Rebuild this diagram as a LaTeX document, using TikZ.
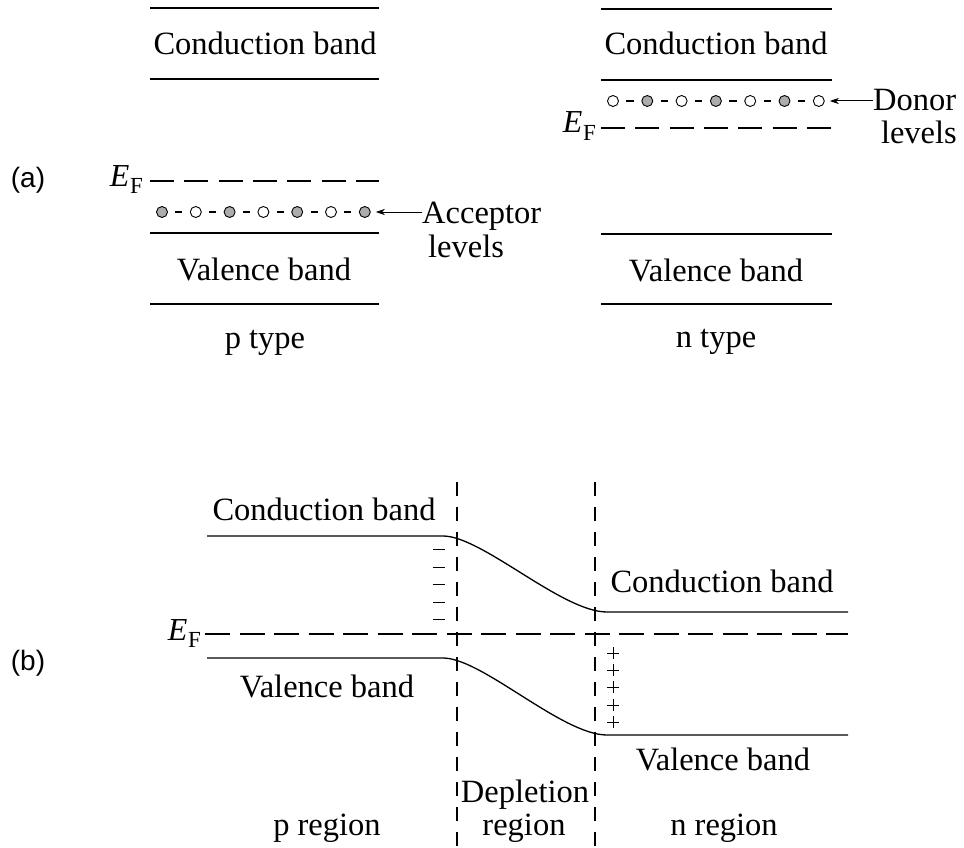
\documentclass[tikz,border=0pt]{standalone}
\usepackage{fontspec}
\setmainfont{Liberation Serif}
\newfontfamily\lblfont{Liberation Sans}
\usetikzlibrary{arrows.meta}
\newcommand{\efermi}{{\itshape E}\kern0.5pt\raisebox{-0.22em}{\fontsize{23}{25}\selectfont F}}
\begin{document}
\begin{tikzpicture}[x=1pt,y=-1pt,
  txt/.style={font=\fontsize{32.5}{37}\selectfont, inner sep=0pt, anchor=base},
  eftxt/.style={font=\fontsize{32}{36}\selectfont, inner sep=0pt},
  lbl/.style={font=\lblfont\fontsize{28}{32}\selectfont, inner sep=0pt},
  band/.style={line width=1.3pt},
  fermia/.style={line width=1.3pt, dash pattern=on 24pt off 10.3pt},
  fermib/.style={line width=1.3pt, dash pattern=on 25pt off 9.5pt},
  vdash/.style={line width=1.3pt, dash pattern=on 14pt off 11pt},
  fdot/.style={circle, draw, line width=0.9pt, fill=gray!65, minimum size=11pt, inner sep=0pt},
  odot/.style={circle, draw, line width=0.9pt, fill=white, minimum size=11pt, inner sep=0pt},
  link/.style={line width=1.1pt, shorten <=7.5pt, shorten >=7.5pt},
  arr/.style={line width=1pt, -{Stealth[length=9pt,width=6pt,inset=2.5pt]}, shorten >=5pt},
  charge/.style={line width=1pt}
]
\useasboundingbox (0,0) rectangle (964,848);

% ---------------- (a) labels
\node[lbl] (la) at (28,180) {(a)};
\node[lbl] (lb) at (28,663) {(b)};

% ---------------- (a) p type
\draw[band] (150,8) -- (379,8);
\node[txt] (pcb) at (265,55) {Conduction band};
\draw[band] (150,79) -- (379,79);
\node[eftxt, anchor=base east] (pef) at (143,186) {\efermi};
\draw[fermia] (150,181) -- (379,181);
\foreach \i in {0,...,6} {
  \pgfmathsetmacro{\xx}{162+33.8*\i}
  \ifodd\i
    \node[odot] (a\i) at (\xx,212) {};
  \else
    \node[fdot] (a\i) at (\xx,212) {};
  \fi
}
\foreach \i [evaluate=\i as \j using int(\i+1)] in {0,...,5} {
  \draw[link] (a\i) -- (a\j);
}
\node[txt, anchor=base west] (acc) at (422,223) {Acceptor};
\node[txt, anchor=base west] (accl) at (428,257) {levels};
\draw[arr] (acc.west |- a6) -- (a6);
\draw[band] (150,233) -- (379,233);
\node[txt] (pvb) at (264,280) {Valence band};
\draw[band] (150,304) -- (379,304);
\node[txt] (ptype) at (265,348) {p type};

% ---------------- (a) n type
\draw[band] (601,9) -- (832,9);
\node[txt] (ncb) at (716,55) {Conduction band};
\draw[band] (601,80) -- (832,80);
\foreach \i in {0,...,6} {
  \pgfmathsetmacro{\xx}{613+34.3*\i}
  \ifodd\i
    \node[fdot] (d\i) at (\xx,101) {};
  \else
    \node[odot] (d\i) at (\xx,101) {};
  \fi
}
\foreach \i [evaluate=\i as \j using int(\i+1)] in {0,...,5} {
  \draw[link] (d\i) -- (d\j);
}
\node[txt, anchor=base west] (don) at (873,111) {Donor};
\node[txt, anchor=base east] (donl) at (957,144) {levels};
\draw[arr] (don.west |- d6) -- (d6);
\node[eftxt, anchor=base east] (nef) at (596,133) {\efermi};
\draw[fermia] (601,128) -- (832,128);
\draw[band] (601,234) -- (832,234);
\node[txt] (nvb) at (716,281) {Valence band};
\draw[band] (601,304) -- (832,304);
\node[txt] (ntype) at (716,347) {n type};

% ---------------- (b) junction
\coordinate (v1t) at (457,482);
\coordinate (v1b) at (457,848);
\coordinate (v2t) at (595,482);
\coordinate (v2b) at (595,848);
\draw[vdash] (v1t) -- (v1b);
\draw[vdash] (v2t) -- (v2b);

\draw[band] (207,536) -- (443,536) .. controls (482,536) and (562,612) .. (607,612) -- (848,612);
\draw[band] (207,658) -- (443,658) .. controls (482,658) and (562,735) .. (607,735) -- (848,735);

\node[eftxt, anchor=base east] (bef) at (201,640) {\efermi};
\draw[fermib] (205,634) -- (848,634);

\node[txt] (bpcb) at (324,520) {Conduction band};
\node[txt] (bncb) at (722,592) {Conduction band};
\node[txt] (bpvb) at (327,697) {Valence band};
\node[txt] (bnvb) at (723,770) {Valence band};

\foreach \y in {549,567,584,602,619} {
  \draw[charge] (433,\y) -- (445,\y);
}
\foreach \y in {653,670,687,705,722} {
  \draw[charge] (607,\y) -- (619,\y);
  \draw[charge] (613,\y-6) -- (613,\y+6);
}

\node[txt] (preg) at (327,835) {p region};
\node[txt] (dep) at (525,802) {Depletion};
\node[txt] (depr) at (524,835) {region};
\node[txt] (nreg) at (724,835) {n region};
\end{tikzpicture}
\end{document}
